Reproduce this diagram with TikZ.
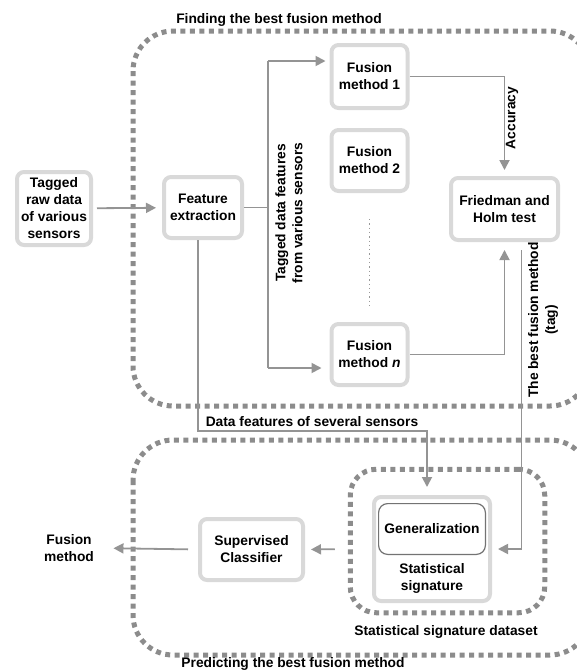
\documentclass[tikz,border=0pt]{standalone}
\usepackage{fontspec}
\setmainfont{Liberation Sans}
\usetikzlibrary{arrows.meta}

\begin{document}
\begin{tikzpicture}[x=1pt,y=-1pt,
		font=\bfseries\fontsize{13.8}{17}\selectfont,
		box/.style={rectangle,rounded corners=7pt,draw=black!15,line width=4pt,fill=white,align=center,inner sep=0pt},
		genbox/.style={rectangle,rounded corners=9pt,draw=black!55,line width=1.2pt,fill=white,align=center,inner sep=0pt},
		dotframe/.style={draw=black!45,line width=5pt,dash pattern=on 5pt off 4.5pt,rounded corners=40pt},
		arr/.style={draw=black!42,line width=1.8pt,-{Triangle[length=10pt,width=10pt]}},
		line/.style={draw=black!42,line width=1.8pt}]
		\useasboundingbox (0,0) rectangle (577,672);
		\clip (0,0) rectangle (577,672);
		% the two regions
		\draw[dotframe] (133,31) rectangle (590,406);
		\draw[dotframe] (133,440) rectangle (590,655);
		\node (t1) at (279,20) {Finding the best fusion method};
		\node (t2) at (293,664) {Predicting the best fusion method};
		% boxes
		\node [box,minimum width=74pt,minimum height=73pt] (raw) at (54,208.5) {Tagged\\raw data\\of various\\sensors};
		\node [box,minimum width=78pt,minimum height=61pt] (feat) at (203,207.5) {Feature\\extraction};
		\node [box,minimum width=76pt,minimum height=63pt] (m1) at (369.5,76.5) {Fusion\\method 1};
		\node [box,minimum width=76pt,minimum height=61pt] (m2) at (369.5,160.5) {Fusion\\method 2};
		\node [box,minimum width=76pt,minimum height=61pt] (mn) at (369.5,354.5) {Fusion\\method \textit{n}};
		\node [box,minimum width=107pt,minimum height=62pt] (fh) at (504.5,209) {Friedman and\\Holm test};
		\node [dotframe,rounded corners=26pt,minimum width=194.5pt,minimum height=143.5pt] (ds) at (447.5,541) {};
		\node (dsl) at (446,632) {Statistical signature dataset};
		\node [box,minimum width=116pt,minimum height=104pt] (sig) at (432,549) {};
		\node [genbox,minimum width=106.8pt,minimum height=50.8pt] (gen) at (432,529) {Generalization};
		\node [align=center] (sigl) at (432,578) {Statistical\\signature};
		\node [box,minimum width=103pt,minimum height=61pt] (sc) at (251.5,549.5) {Supervised\\Classifier};
		\node [align=center] (out) at (69,548) {Fusion\\method};
		% connectors
		\coordinate (b1) at (268,61);
		\coordinate (bn) at (268,368);
		\coordinate (d) at (427,431);
		\draw[arr,shorten <=4pt,shorten >=6pt] (raw) -- (feat);
		\draw[line] (feat.east) -- (feat.east -| b1);
		\draw[line] (b1) -- (bn);
		\draw[arr,shorten >=4pt] (b1) -- (b1 -| m1.west);
		\draw[arr,shorten >=8pt] (bn) -- (bn -| mn.west);
		\draw[draw=black!40,line width=1.3pt,dash pattern=on 1.3pt off 3pt] ([yshift=-26pt]m2.south) -- ([yshift=15pt]mn.north);
		\draw[arr,shorten >=6pt] (m1.east) -| (fh.north);
		\draw[arr,shorten >=8pt] (mn.east) -| (fh.south);
		\draw[arr,shorten <=8pt,shorten >=6pt] ([xshift=17pt]fh.south) |- (sig.east);
		\draw[arr,shorten >=8pt] ([xshift=-5pt]feat.south) |- (d) -- (d |- sig.north);
		\draw[arr,shorten <=13pt,shorten >=6pt] (ds.west |- sig.west) -- (sc.east);
		\draw[arr,shorten <=10pt,shorten >=16pt] (sc.west) -- (out.east);
		% labels on connectors
		\node [rotate=90,align=center] (lt) at (289,213) {Tagged data features\\from various sensors};
		\node [rotate=90] (la) at (512,118) {Accuracy};
		\node [rotate=90,align=center] (lb) at (543,320) {The best fusion method\\(tag)};
		\node (ld) at (312,422) {Data features of several sensors};
\end{tikzpicture}
\end{document}
